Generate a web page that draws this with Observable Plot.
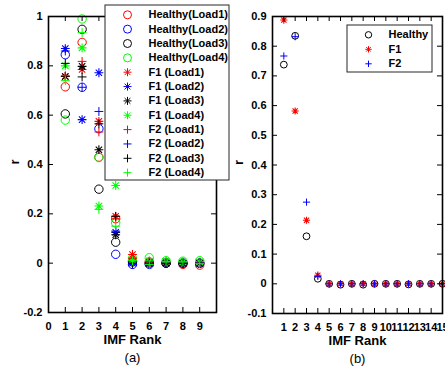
<!DOCTYPE html>
<html><head><meta charset="utf-8">
<script src="https://cdn.jsdelivr.net/npm/d3@7"></script>
<script src="https://cdn.jsdelivr.net/npm/@observablehq/plot@0.6"></script>
<style>
body{margin:0;background:#fff;}
#wrap{position:relative;width:445px;height:372px;overflow:hidden;background:#fff;}
#wrap > svg{position:absolute;top:0;background:transparent;}
</style></head><body><div id="wrap"></div>
<script>
// ---------- Panel (a) data ----------
const rankA = [1,2,3,4,5,6,7,8,9];
const healthyL1 = [0.715, 0.895, 0.430, 0.180, 0.010, 0.005, 0.000, -0.005, -0.008];
const healthyL2 = [0.845, 0.713, 0.545, 0.036, -0.005, -0.005, 0.000, 0.000, 0.000];
const healthyL3 = [0.605, 0.948, 0.300, 0.085, 0.005, 0.000, 0.000, 0.000, 0.000];
const healthyL4 = [0.580, 0.990, 0.428, 0.163, 0.020, 0.022, 0.010, 0.008, 0.010];
const f1L1 = [0.757, 0.785, 0.575, 0.190, 0.035, 0.005, 0.005, 0.000, 0.000];
const f1L2 = [0.870, 0.582, 0.772, 0.125, 0.000, 0.000, 0.000, 0.000, 0.000];
const f1L3 = [0.757, 0.798, 0.460, 0.115, 0.010, 0.000, 0.000, 0.000, 0.000];
const f1L4 = [0.800, 0.873, 0.232, 0.315, 0.012, 0.010, 0.008, 0.005, 0.005];
const f2L1 = [0.760, 0.818, 0.532, 0.180, 0.020, 0.005, 0.000, 0.000, 0.000];
const f2L2 = [0.860, 0.713, 0.615, 0.130, -0.005, -0.005, 0.000, 0.000, 0.000];
const f2L3 = [0.810, 0.755, 0.565, 0.190, 0.000, 0.000, 0.000, 0.000, 0.000];
const f2L4 = [0.740, 0.935, 0.218, 0.150, 0.010, -0.005, 0.005, 0.005, -0.002];
const namesA = ["Healthy(Load1)","Healthy(Load2)","Healthy(Load3)","Healthy(Load4)",
  "F1 (Load1)","F1 (Load2)","F1 (Load3)","F1 (Load4)",
  "F2 (Load1)","F2 (Load2)","F2 (Load3)","F2 (Load4)"];
const valuesA = [healthyL1,healthyL2,healthyL3,healthyL4,f1L1,f1L2,f1L3,f1L4,f2L1,f2L2,f2L3,f2L4];
const xTickLabelsA = [0,1,2,3,4,5,6,7,8,9];
const yTicksA = [-0.2,0,0.2,0.4,0.6,0.8,1];

// ---------- Panel (b) data ----------
const rankB = [1,2,3,4,5,6,7,8,9,10,11,12,13,14,15];
const healthyB = [0.738, 0.835, 0.160, 0.017, 0.000, -0.003, 0.000, -0.003, 0.000, 0.000, 0.000, -0.002, 0.000, 0.000, 0.000];
const f1B = [0.888, 0.582, 0.214, 0.029, 0.000, 0.000, 0.000, 0.000, 0.000, 0.000, 0.000, 0.000, 0.000, 0.000, 0.000];
const f2B = [0.767, 0.832, 0.275, 0.025, 0.000, 0.000, 0.000, 0.000, 0.000, 0.000, 0.000, 0.000, 0.000, 0.000, 0.000];
const namesB = ["Healthy","F1","F2"];
const valuesB = [healthyB, f1B, f2B];
const xTickLabelsB = rankB;
const yTicksB = [-0.1,0,0.1,0.2,0.3,0.4,0.5,0.6,0.7,0.8,0.9];

// ---------- styling ----------
const plusSym = {draw(ctx, size){const r=Math.sqrt(size/Math.PI);ctx.moveTo(-r,0);ctx.lineTo(r,0);ctx.moveTo(0,-r);ctx.lineTo(0,r);}};
const starSym = {draw(ctx, size){const r=Math.sqrt(size/Math.PI), d=r*0.72;
  ctx.moveTo(-r,0);ctx.lineTo(r,0);ctx.moveTo(0,-r);ctx.lineTo(0,r);
  ctx.moveTo(-d,-d);ctx.lineTo(d,d);ctx.moveTo(-d,d);ctx.lineTo(d,-d);}};
const colorsA = ["#ff0000","#0000ff","#000000","#00ff00","#ff0000","#0000ff","#000000","#00ff00","#ff0000","#0000ff","#000000","#00ff00"];
const symsA = ["circle","circle","circle","circle",starSym,starSym,starSym,starSym,plusSym,plusSym,plusSym,plusSym];
const colorsB = ["#000000","#ff0000","#0000ff"];
const symsB = ["circle", starSym, plusSym];
const fmt = d => d === 0 ? "0" : String(d);
const baseStyle = {fontFamily:"'Liberation Sans', Arial, sans-serif", fontWeight:"bold", fontSize:"11px", color:"#000", background:"transparent", overflow:"visible"};

function panel({width, ml, mr, mt, mb, xDomain, yDomain, ranks, values, syms, colors, r, xTickLabels, xTickMarks, yTicks, tag, ylabDx}) {
  const fw = width - ml - mr, fh = 372 - mt - mb;
  const marks = [];
  values.forEach((vals, k) => {
    const data = vals.map((v, i) => ({x: ranks[i], y: v}));
    marks.push(Plot.dot(data, {x:"x", y:"y", r: syms[k]==="circle" ? r : r*1.05, symbol: syms[k], stroke: colors[k], fill:"none", strokeWidth: syms[k]===starSym ? 1.1 : 1}));
  });
  marks.push(
    Plot.tickX(xTickMarks, {x:d=>d, insetTop: fh-5, stroke:"#000", strokeWidth:1}),
    Plot.tickX(xTickMarks, {x:d=>d, insetBottom: fh-5, stroke:"#000", strokeWidth:1}),
    Plot.tickY(yTicks, {y:d=>d, insetRight: fw-5, stroke:"#000", strokeWidth:1}),
    Plot.tickY(yTicks, {y:d=>d, insetLeft: fw-5, stroke:"#000", strokeWidth:1}),
    Plot.frame({stroke:"#000", strokeWidth:1.6}),
    Plot.axisX(xTickLabels, {tickSize:0, tickPadding:10, tickFormat: fmt, label:null}),
    Plot.axisY(yTicks, {tickSize:0, tickPadding:6, tickFormat: fmt, label:null}),
    Plot.text(["IMF Rank"], {text:d=>d, frameAnchor:"bottom", dy:31, fontSize:13, fontWeight:"bold"}),
    Plot.text([tag], {text:d=>d, frameAnchor:"bottom", dy:49, fontSize:13, fontWeight:"normal"}),
    Plot.text(["r"], {text:d=>d, frameAnchor:"left", dx:ylabDx, rotate:-90, fontSize:13, fontWeight:"bold"})
  );
  return Plot.plot({width, height:372, marginLeft:ml, marginRight:mr, marginTop:mt, marginBottom:mb,
    x:{domain:xDomain, axis:null}, y:{domain:yDomain, axis:null}, style: baseStyle, marks});
}

function legend({names, syms, colors, w, h, y0, dy, mx, tx, r}) {
  const rows = names.map((n, i) => ({n, i}));
  const marks = [Plot.frame({fill:"#fff", stroke:"#262626", strokeWidth:1, inset:0.5})];
  rows.forEach(d => marks.push(Plot.dot([d], {x:()=>mx, y:()=>y0+d.i*dy, symbol: syms[d.i], stroke: colors[d.i], fill:"none", r, strokeWidth:1})));
  marks.push(Plot.text(rows, {x:()=>tx, y:d=>y0+d.i*dy, text:d=>d.n, textAnchor:"start", fill:"#000"}));
  return Plot.plot({width:w, height:h, margin:0, x:{domain:[0,w], range:[0,w], axis:null}, y:{domain:[0,h], range:[0,h], axis:null}, style: baseStyle, marks});
}

const wrap = document.getElementById("wrap");
const pa = panel({width:225, ml:48, mr:9, mt:16, mb:60, xDomain:[0,10], yDomain:[-0.2,1], ranks:rankA, values:valuesA,
  syms:symsA, colors:colorsA, r:4.2, xTickLabels:xTickLabelsA, xTickMarks:[1,2,3,4,5,6,7,8,9], yTicks:yTicksA, tag:"(a)", ylabDx:-34});
pa.style.left = "0px";
const pb = panel({width:220, ml:47, mr:3, mt:16, mb:59, xDomain:[0,15], yDomain:[-0.1,0.9], ranks:rankB, values:valuesB,
  syms:symsB, colors:colorsB, r:3.4, xTickLabels:xTickLabelsB, xTickMarks:rankB, yTicks:yTicksB, tag:"(b)", ylabDx:-34});
pb.style.left = "225px";
wrap.append(pa, pb);
const la = legend({names:namesA, syms:symsA, colors:colorsA, w:125, h:176, y0:10.3, dy:14.35, mx:23, tx:44, r:4});
la.style.left = "104px"; la.style.top = "4px";
const lb = legend({names:namesB, syms:symsB, colors:colorsB, w:86, h:48, y0:10.3, dy:14.5, mx:22, tx:42, r:3.2});
lb.style.left = "346px"; lb.style.top = "24px";
wrap.append(la, lb);
</script></body></html>
